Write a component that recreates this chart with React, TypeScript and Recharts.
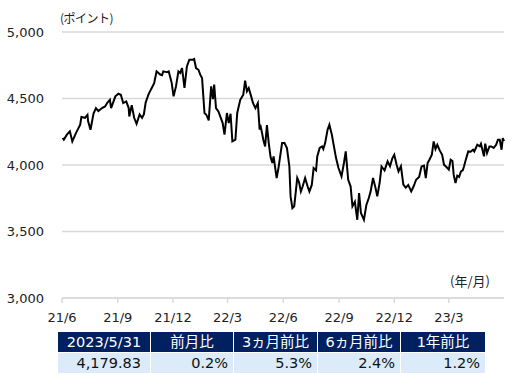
import { LineChart, Line, XAxis, YAxis, CartesianGrid } from 'recharts'

const dates = [
  '2021-06-02', '2021-06-04', '2021-06-09', '2021-06-14', '2021-06-18', '2021-06-24', '2021-07-01', '2021-07-03',
  '2021-07-09', '2021-07-13', '2021-07-14', '2021-07-18', '2021-07-23', '2021-07-27', '2021-07-31', '2021-08-06',
  '2021-08-11', '2021-08-15', '2021-08-19', '2021-08-21', '2021-08-28', '2021-09-02', '2021-09-06', '2021-09-10',
  '2021-09-15', '2021-09-19', '2021-09-20', '2021-09-24', '2021-09-28', '2021-10-02', '2021-10-07', '2021-10-11',
  '2021-10-14', '2021-10-17', '2021-10-22', '2021-10-27', '2021-10-31', '2021-11-04', '2021-11-10', '2021-11-13',
  '2021-11-15', '2021-11-21', '2021-11-24', '2021-11-26', '2021-11-29', '2021-12-02', '2021-12-06', '2021-12-10',
  '2021-12-13', '2021-12-16', '2021-12-20', '2021-12-24', '2021-12-28', '2022-01-03', '2022-01-05', '2022-01-08',
  '2022-01-12', '2022-01-15', '2022-01-18', '2022-01-22', '2022-01-25', '2022-01-29', '2022-02-02', '2022-02-05',
  '2022-02-07', '2022-02-10', '2022-02-14', '2022-02-17', '2022-02-21', '2022-02-24', '2022-02-28', '2022-03-03',
  '2022-03-06', '2022-03-09', '2022-03-14', '2022-03-17', '2022-03-22', '2022-03-27', '2022-03-30', '2022-04-02',
  '2022-04-05', '2022-04-09', '2022-04-12', '2022-04-16', '2022-04-20', '2022-04-23', '2022-04-24', '2022-04-27',
  '2022-04-29', '2022-05-02', '2022-05-05', '2022-05-08', '2022-05-11', '2022-05-14', '2022-05-16', '2022-05-21',
  '2022-05-24', '2022-05-30', '2022-06-03', '2022-06-07', '2022-06-11', '2022-06-13', '2022-06-16', '2022-06-19',
  '2022-06-24', '2022-06-27', '2022-06-30', '2022-07-03', '2022-07-07', '2022-07-11', '2022-07-14', '2022-07-18',
  '2022-07-21', '2022-07-25', '2022-07-27', '2022-07-31', '2022-08-04', '2022-08-06', '2022-08-09', '2022-08-13',
  '2022-08-16', '2022-08-20', '2022-08-23', '2022-08-27', '2022-08-31', '2022-09-05', '2022-09-09', '2022-09-12',
  '2022-09-16', '2022-09-20', '2022-09-23', '2022-09-27', '2022-10-01', '2022-10-04', '2022-10-07', '2022-10-12',
  '2022-10-16', '2022-10-20', '2022-10-23', '2022-10-27', '2022-10-31', '2022-11-03', '2022-11-07', '2022-11-10',
  '2022-11-15', '2022-11-20', '2022-11-24', '2022-11-28', '2022-12-01', '2022-12-05', '2022-12-08', '2022-12-12',
  '2022-12-16', '2022-12-20', '2022-12-24', '2022-12-29', '2023-01-02', '2023-01-06', '2023-01-11', '2023-01-15',
  '2023-01-19', '2023-01-22', '2023-01-25', '2023-01-28', '2023-02-01', '2023-02-04', '2023-02-07', '2023-02-10',
  '2023-02-14', '2023-02-18', '2023-02-21', '2023-02-25', '2023-03-01', '2023-03-04', '2023-03-07', '2023-03-09',
  '2023-03-12', '2023-03-15', '2023-03-18', '2023-03-21', '2023-03-24', '2023-03-26', '2023-03-29', '2023-04-02',
  '2023-04-06', '2023-04-10', '2023-04-12', '2023-04-17', '2023-04-21', '2023-04-23', '2023-04-28', '2023-04-30',
  '2023-05-03', '2023-05-07', '2023-05-10', '2023-05-14', '2023-05-18', '2023-05-21', '2023-05-24', '2023-05-27',
  '2023-05-29', '2023-05-31',
]

const values = [
  4203, 4190, 4228, 4253, 4177, 4240, 4303, 4361,
  4355, 4378, 4330, 4265, 4386, 4428, 4405, 4428,
  4440, 4470, 4490, 4428, 4516, 4536, 4528, 4466,
  4478, 4428, 4365, 4450, 4355, 4310, 4380, 4355,
  4380, 4470, 4535, 4579, 4616, 4704, 4680, 4675,
  4704, 4698, 4704, 4670, 4616, 4516, 4591, 4704,
  4692, 4729, 4579, 4741, 4792, 4792, 4797, 4729,
  4716, 4679, 4654, 4391, 4378, 4336, 4591, 4495,
  4604, 4428, 4403, 4365, 4315, 4228, 4391, 4315,
  4385, 4177, 4190, 4391, 4490, 4528, 4634, 4554,
  4579, 4516, 4466, 4428, 4466, 4265, 4303, 4240,
  4190, 4140, 4300, 4165, 4060, 4015, 4065, 3902,
  3977, 4165, 4165, 4127, 3989, 3764, 3676, 3690,
  3902, 3870, 3801, 3840, 3902, 3840, 3801, 3850,
  3977, 3960, 4065, 4128, 4140, 4120, 4165, 4265,
  4303, 4230, 4152, 4052, 3977, 3914, 4015, 4102,
  3889, 3840, 3689, 3724, 3588, 3789, 3640, 3588,
  3700, 3752, 3800, 3902, 3830, 3764, 3870, 3989,
  3960, 4027, 3990, 4052, 4077, 4000, 3952, 3990,
  3852, 3830, 3850, 3801, 3840, 3889, 3910, 3989,
  3995, 3902, 4015, 4040, 4077, 4177, 4120, 4152,
  4110, 4077, 4002, 3985, 3965, 4040, 4030, 3927,
  3864, 3920, 3910, 3952, 3960, 3989, 4040, 4102,
  4100, 4115, 4102, 4152, 4140, 4160, 4065, 4160,
  4090, 4140, 4140, 4128, 4152, 4190, 4190, 4115,
  4203, 4179.83,
]

const tickDates = ['2021-06-01', '2021-09-01', '2021-12-01', '2022-03-01', '2022-06-01', '2022-09-01', '2022-12-01', '2023-03-01']
const tickLabels = ['21/6', '21/9', '21/12', '22/3', '22/6', '22/9', '22/12', '23/3']
const yTicks = [3000, 3500, 4000, 4500, 5000]

const tableHeaders = ['2023/5/31', '前月比', '3ヵ月前比', '6ヵ月前比', '1年前比']
const tableValues = ['4,179.83', '0.2%', '5.3%', '2.4%', '1.2%']
const colWidths = [92, 83, 84, 83, 85]

const data = dates.map((d, i) => ({ t: Date.parse(d), v: values[i] }))
const xTicks = tickDates.map((d) => Date.parse(d))
const domainStart = Date.parse('2021-06-01')
const domainEnd = Date.parse('2023-05-31')

const font = '"DejaVu Sans", "Noto Sans CJK JP", sans-serif'
const jpFont = '"Noto Sans CJK JP", "DejaVu Sans", sans-serif'

export default function App() {
  return (
    <div style={{ position: 'absolute', left: 0, top: 0, width: 529, height: 374, background: '#fff', fontFamily: font }}>
      <LineChart width={529} height={330} data={data} margin={{ top: 32, right: 25, bottom: 0, left: 0 }}>
        <CartesianGrid vertical={false} stroke="#d9d9d9" strokeWidth={1.5} />
        <XAxis
          dataKey="t"
          type="number"
          scale="linear"
          domain={[domainStart, domainEnd]}
          ticks={xTicks}
          tickFormatter={(t: number) => tickLabels[xTicks.indexOf(t)] ?? ''}
          height={32}
          tickSize={5}
          tickMargin={10}
          axisLine={{ stroke: '#d9d9d9', strokeWidth: 1.5 }}
          tickLine={{ stroke: '#d9d9d9', strokeWidth: 1.5 }}
          tick={{ fontSize: 13, fill: '#222', fontFamily: font }}
          interval={0}
        />
        <YAxis
          domain={[3000, 5000]}
          ticks={yTicks}
          width={62}
          axisLine={false}
          tickLine={false}
          tickSize={6}
          tickMargin={12}
          tickFormatter={(v: number) => v.toLocaleString('en-US')}
          tick={{ fontSize: 13, fill: '#222', fontFamily: font }}
        />
        <Line dataKey="v" type="linear" stroke="#000" strokeWidth={2} dot={false} isAnimationActive={false} />
      </LineChart>

      <div style={{ position: 'absolute', left: 60, top: 9, fontSize: 12, color: '#222', fontFamily: jpFont, letterSpacing: -0.5 }}>
        (ポイント)
      </div>
      <div style={{ position: 'absolute', left: 450, top: 271, fontSize: 13, color: '#222', fontFamily: jpFont }}>
        (年/月)
      </div>

      <div style={{ position: 'absolute', left: 58, top: 332, width: 427 }}>
        <div style={{ display: 'flex', height: 20 }}>
          {tableHeaders.map((h, i) => (
            <div key={h} style={{
              width: colWidths[i], boxSizing: 'border-box', background: '#002060', color: '#fff',
              borderLeft: i > 0 ? '1px solid #fff' : 'none', textAlign: 'center',
              fontSize: 14.5, lineHeight: '20px', fontFamily: font,
            }}>{h}</div>
          ))}
        </div>
        <div style={{ display: 'flex', height: 20, marginTop: 1 }}>
          {tableValues.map((v, i) => (
            <div key={i} style={{
              width: colWidths[i], boxSizing: 'border-box', background: '#dbebfa', color: '#111',
              borderLeft: i > 0 ? '1px solid #fff' : 'none', textAlign: 'right',
              paddingRight: i === 0 ? 9 : 5, fontSize: 14.5, lineHeight: '20px', fontFamily: font,
            }}>{v}</div>
          ))}
        </div>
      </div>
    </div>
  )
}
